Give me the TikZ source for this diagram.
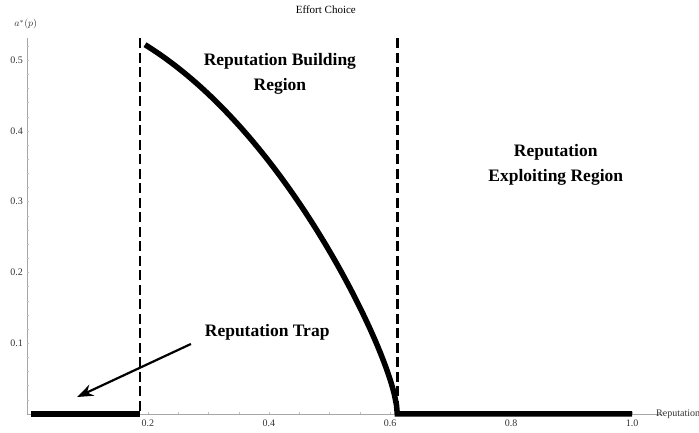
\documentclass[tikz,border=0pt]{standalone}
\usepackage{fontspec}
\setmainfont{Liberation Serif}
\usetikzlibrary{arrows.meta}
\begin{document}
\begin{tikzpicture}
    [
    x=605pt, y=707.5pt,
    axisline/.style={draw=gray!70,line width=0.5pt},
    ticklabel/.style={font=\fontsize{10}{11}\selectfont,text=black!80,inner sep=1pt},
    effort/.style={line width=5.5pt},
    threshold/.style={line width=2.6pt,dash pattern=on 10pt off 4.5pt},
    regionlabel/.style={font=\bfseries\fontsize{17.5}{25}\selectfont,align=center},
    ]
    \useasboundingbox (-27pt,-19pt) rectangle (672pt,414pt);
    % axes
    \coordinate (origin) at (0,0);
    \coordinate (xend) at (1.05,0);
    \coordinate (yend) at (0,0.531);
    \draw[axisline] (origin) -- (xend);
    \draw[axisline] (origin) -- (yend);
    \foreach \i in {1,...,21}
      \draw[axisline,draw=gray!50] (\i*0.05,0) -- ++(0,2pt);
    \foreach \i in {1,...,26}
      \draw[axisline,draw=gray!50] (0,\i*0.02) -- ++(2pt,0);
    \foreach \v in {0.2,0.4,0.6,0.8,1.0}
      \node[ticklabel,below=5pt] (xt\v) at (\v,0) {\v};
    \foreach \v in {0.1,0.2,0.3,0.4,0.5}
      \node[ticklabel,left=3pt] (yt\v) at (0,\v) {\v};
    \node[ticklabel,anchor=west] (xlabel) at (1.038,0) {Reputation};
    \node[ticklabel] (ylabel) at (-0.002,0.551) {$a^*(p)$};
    \node[font=\fontsize{11}{12}\selectfont] (title) at (0.494,0.571) {Effort Choice};
    % thresholds
    \coordinate (lowtop) at (0.187,0.531);
    \coordinate (lowbot) at (0.187,0);
    \coordinate (hightop) at (0.612,0.531);
    \coordinate (highbot) at (0.612,0);
    \draw[threshold] (lowtop) -- (lowbot);
    \draw[threshold] (hightop) -- (highbot);
    % effort choice
    \draw[effort] (0.006,0) -- (lowbot);
    \draw[effort] plot[domain=0.195:0.6115,samples=120]
      (\x,{0.3138*sqrt(0.612-\x)+1.2464*(0.612-\x)-1.1526*(0.612-\x)^2})
      -- (highbot) -- (1.0,0);
    % regions
    \node[regionlabel] (building) at (0.418,0.481) {Reputation Building\\Region};
    \node[regionlabel] (exploiting) at (0.874,0.352) {Reputation\\Exploiting Region};
    \node[regionlabel] (trap) at (0.397,0.116) {Reputation Trap};
    \coordinate (trapfrom) at (0.271,0.099);
    \coordinate (trapto) at (0.083,0.024);
    \draw[line width=2.2pt,-{Stealth[length=16pt,width=12pt]}] (trapfrom) -- (trapto);
  \end{tikzpicture}
\end{document}
